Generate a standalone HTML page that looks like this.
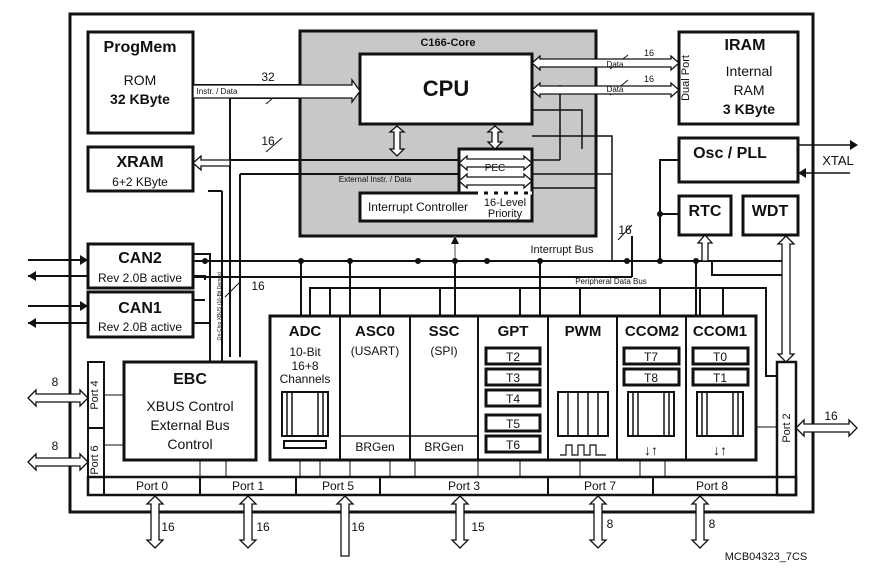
<!DOCTYPE html>
<html><head><meta charset="utf-8"><style>
body{margin:0;background:#fff}
svg{display:block;font-family:"Liberation Sans",sans-serif}
.b{font-weight:bold}
</style></head><body>
<svg width="877" height="573" viewBox="0 0 877 573" xmlns="http://www.w3.org/2000/svg">
<g fill="none" stroke="#111">
<rect x="70" y="14" width="743" height="498" stroke-width="3"/>
<rect x="300" y="31" width="296" height="205" fill="#c8c8c8" stroke-width="3"/>
<rect x="360" y="54" width="172" height="70" fill="#fff" stroke-width="3"/>
<rect x="459" y="149" width="73" height="46" fill="#fff" stroke-width="3"/>
<rect x="360" y="193" width="172" height="28" fill="#fff" stroke-width="3"/>
<line x1="478" y1="193" x2="532" y2="193" stroke="#fff" stroke-width="3" stroke-dasharray="6,4"/>
<rect x="88" y="32" width="105" height="101" stroke-width="3"/>
<rect x="88" y="147" width="105" height="44" stroke-width="3"/>
<rect x="679" y="32" width="119" height="92" stroke-width="3"/>
<rect x="679" y="138" width="119" height="44" stroke-width="3"/>
<rect x="679" y="196" width="52" height="39" stroke-width="3"/>
<rect x="743" y="196" width="55" height="39" stroke-width="3"/>
<rect x="88" y="244" width="105" height="44" stroke-width="3"/>
<rect x="88" y="292" width="105" height="45" stroke-width="3"/>
<rect x="124" y="362" width="132" height="98" stroke-width="3"/>
<rect x="88" y="362" width="16" height="133" stroke-width="2"/>
<line x1="88" y1="428" x2="104" y2="428" stroke-width="2"/>
<rect x="270" y="316" width="486" height="144" stroke-width="3"/>
<path d="M340 316V460M410 316V460M478 316V460M548 316V460M617 316V460M686 316V460" stroke-width="2"/>
<path d="M340 436H478" stroke-width="1.5"/>
<rect x="777" y="362" width="19" height="133" stroke-width="2.5"/>
<rect x="88" y="477" width="708" height="18" stroke-width="2.5"/>
<path d="M104 477V495M200 477V495M296 477V495M380 477V495M548 477V495M653 477V495M777 477V495" stroke-width="2"/>
<path d="M104 395H124M104 445H124M200 460V477M226 460V477M300 460V477M320 460V477M350 460V477M390 460V477M415 460V477M478 460V477M520 460V477M580 460V477M640 460V477M665 460V477M756 427H777" stroke-width="1"/>
<rect x="486" y="348" width="54" height="16" stroke-width="3"/>
<rect x="486" y="369" width="54" height="16" stroke-width="3"/>
<rect x="486" y="390" width="54" height="16" stroke-width="3"/>
<rect x="486" y="415" width="54" height="16" stroke-width="3"/>
<rect x="486" y="436" width="54" height="16" stroke-width="3"/>
<rect x="624" y="348" width="55" height="16" stroke-width="3"/>
<rect x="624" y="369" width="55" height="16" stroke-width="3"/>
<rect x="693" y="348" width="55" height="16" stroke-width="3"/>
<rect x="693" y="369" width="55" height="16" stroke-width="3"/>
<rect x="282" y="392" width="46" height="44" stroke-width="2"/><path d="M287 392V436M292 392V436M318 392V436M323 392V436" stroke-width="1.5"/>
<rect x="284" y="441" width="42" height="7" stroke-width="2"/>
<rect x="558" y="392" width="50" height="44" stroke-width="2"/><path d="M568 392V436M578 392V436M588 392V436M598 392V436" stroke-width="1.5"/>
<path d="M560 455H566V445H572V455H578V445H584V455H590V445H596V455H606" stroke-width="1.2"/>
<rect x="628" y="392" width="46" height="44" stroke-width="2"/><path d="M633 392V436M638 392V436M664 392V436M669 392V436" stroke-width="1.5"/>
<rect x="697" y="392" width="46" height="44" stroke-width="2"/><path d="M702 392V436M707 392V436M733 392V436M738 392V436" stroke-width="1.5"/>
<path d="M193 261H783M193 277H632M632 277V236M301 261V316M350 261V316M455 261V316M540 261V316" stroke-width="2"/>
<path d="M660 261V214H679M660 214V160H679M696 261V316M712 261V275H783" stroke-width="2"/>
<path d="M310 316V288H766V376H777M330 316V288M380 316V288M440 316V288M520 316V288M580 316V288M660 316V288M700 316V288M723 316V288" stroke-width="2"/>
<path d="M455 261V236" stroke="#888" stroke-width="1.5"/>
<path d="M193 85H300V98H230V160H459M240 174H459M240 174V357M230 160V357M222 362V191M222 191H208" stroke-width="2"/>
<path d="M532 110H582V149M532 136H612V174H532M532 160H560M532 188H596V160M560 85V160M612 136V261" stroke-width="1.5"/>
<path d="M798 145H850M850 173H798" stroke-width="1.5"/>
<path d="M28 260H88M28 276H88M28 306H88M28 323H88M193 254H210V362M193 276H205V280M193 300H205M193 323H210" stroke-width="2"/>
<path d="M618 240L632 225M225 297L240 282M610 95L628 80M610 69L628 55M266 104L282 90M266 152L282 138" stroke-width="1"/>
</g>
<g fill="#111">
<circle cx="205" cy="261" r="3"/><circle cx="301" cy="261" r="3"/><circle cx="350" cy="261" r="3"/><circle cx="418" cy="261" r="3"/><circle cx="455" cy="261" r="3"/><circle cx="487" cy="261" r="3"/><circle cx="540" cy="261" r="3"/><circle cx="627" cy="261" r="3"/><circle cx="660" cy="261" r="3"/><circle cx="696" cy="261" r="3"/><circle cx="660" cy="214" r="3"/>
<polygon points="455,236 451,244 459,244"/>
<polygon points="850,140 858,145 850,150"/><polygon points="798,173 806,168 806,178"/>
<polygon points="88,260 80,255 80,265"/><polygon points="28,276 36,271 36,281"/><polygon points="88,306 80,301 80,311"/><polygon points="28,323 36,318 36,328"/>
</g>
<g fill="#fff" stroke="#111" stroke-width="1.3">
<polygon points="193,85 352,85 352,80 360,91 352,102 352,98 193,98"/>
<polygon points="532,63 540,56 540,59 671,59 671,56 679,63 671,70 671,67 540,67 540,70"/>
<polygon points="532,90 540,83 540,86 671,86 671,83 679,90 671,97 671,94 540,94 540,97"/>
<polygon points="397,126 404,132 400,132 400,149 404,149 397,156 390,149 394,149 394,132 390,132"/>
<polygon points="495,126 502,132 498,132 498,142 502,142 495,149 488,142 492,142 492,132 488,132"/>
<polygon points="459,163 467,156 467,159 524,159 524,156 532,163 524,170 524,167 467,167 467,170"/>
<polygon points="459,181 467,174 467,177 524,177 524,174 532,181 524,188 524,185 467,185 467,188"/>
<polygon points="193,163 201,156 201,160 230,160 230,166 201,166 201,170"/>
<polygon points="28,398 36,390 36,394 80,394 80,390 88,398 80,406 80,402 36,402 36,406"/>
<polygon points="28,462 36,454 36,458 80,458 80,454 88,462 80,470 80,466 36,466 36,470"/>
<polygon points="796,428 804,420 804,424 849,424 849,420 857,428 849,436 849,432 804,432 804,436"/>
<polygon points="155,496 163,504 159,504 159,540 163,540 155,548 147,540 151,540 151,504 147,504"/>
<polygon points="248,496 256,504 252,504 252,540 256,540 248,548 240,540 244,540 244,504 240,504"/>
<polygon points="345,496 353,504 349,504 349,556 341,556 341,504 337,504"/>
<polygon points="460,496 468,504 464,504 464,540 468,540 460,548 452,540 456,540 456,504 452,504"/>
<polygon points="598,496 606,504 602,504 602,540 606,540 598,548 590,540 594,540 594,504 590,504"/>
<polygon points="700,496 708,504 704,504 704,540 708,540 700,548 692,540 696,540 696,504 692,504"/>
<polygon points="705,235 712,243 708,243 708,261 702,261 702,243 698,243"/>
<polygon points="786,236 794,244 790,244 790,354 794,354 786,362 778,354 782,354 782,244 778,244"/>
</g>
<g fill="#111" font-size="12" text-anchor="middle">
<text x="140" y="52" font-size="16" class="b">ProgMem</text>
<text x="140" y="85" font-size="14">ROM</text>
<text x="140" y="104" font-size="14" class="b">32 KByte</text>
<text x="140" y="167" font-size="16" class="b">XRAM</text>
<text x="140" y="186" font-size="12">6+2 KByte</text>
<text x="448" y="46" font-size="11" class="b">C166-Core</text>
<text x="446" y="96" font-size="22" class="b">CPU</text>
<text x="495" y="171" font-size="10">PEC</text>
<text x="418" y="211" font-size="12">Interrupt Controller</text>
<text x="505" y="206" font-size="11">16-Level</text>
<text x="505" y="217" font-size="11">Priority</text>
<text x="745" y="50" font-size="16" class="b">IRAM</text>
<text x="749" y="76" font-size="14">Internal</text>
<text x="749" y="95" font-size="14">RAM</text>
<text x="749" y="114" font-size="14" class="b">3 KByte</text>
<text x="730" y="158" font-size="16" class="b">Osc / PLL</text>
<text x="838" y="165" font-size="13">XTAL</text>
<text x="705" y="216" font-size="16" class="b">RTC</text>
<text x="770" y="216" font-size="16" class="b">WDT</text>
<text x="140" y="263" font-size="16" class="b">CAN2</text>
<text x="140" y="282" font-size="12">Rev 2.0B active</text>
<text x="140" y="313" font-size="16" class="b">CAN1</text>
<text x="140" y="331" font-size="12">Rev 2.0B active</text>
<text x="190" y="384" font-size="16" class="b">EBC</text>
<text x="190" y="411" font-size="14">XBUS Control</text>
<text x="190" y="430" font-size="14">External Bus</text>
<text x="190" y="449" font-size="14">Control</text>
<text x="305" y="336" font-size="15" class="b">ADC</text>
<text x="305" y="356" font-size="12">10-Bit</text>
<text x="305" y="370" font-size="12">16+8</text>
<text x="305" y="383" font-size="12">Channels</text>
<text x="375" y="336" font-size="15" class="b">ASC0</text>
<text x="375" y="355" font-size="12">(USART)</text>
<text x="444" y="336" font-size="15" class="b">SSC</text>
<text x="444" y="355" font-size="12">(SPI)</text>
<text x="375" y="451" font-size="12">BRGen</text>
<text x="444" y="451" font-size="12">BRGen</text>
<text x="513" y="336" font-size="15" class="b">GPT</text>
<text x="583" y="336" font-size="15" class="b">PWM</text>
<text x="652" y="336" font-size="15" class="b">CCOM2</text>
<text x="720" y="336" font-size="15" class="b">CCOM1</text>
<text x="513" y="361" font-size="12">T2</text><text x="513" y="382" font-size="12">T3</text><text x="513" y="403" font-size="12">T4</text><text x="513" y="428" font-size="12">T5</text><text x="513" y="449" font-size="12">T6</text>
<text x="651" y="361" font-size="12">T7</text><text x="651" y="382" font-size="12">T8</text>
<text x="720" y="361" font-size="12">T0</text><text x="720" y="382" font-size="12">T1</text>
<text x="651" y="455" font-size="14" class="b">↓↑</text><text x="720" y="455" font-size="14" class="b">↓↑</text>
<text x="152" y="490" font-size="12">Port 0</text><text x="248" y="490" font-size="12">Port 1</text><text x="338" y="490" font-size="12">Port 5</text><text x="464" y="490" font-size="12">Port 3</text><text x="600" y="490" font-size="12">Port 7</text><text x="712" y="490" font-size="12">Port 8</text>
<text x="268" y="81" font-size="12">32</text>
<text x="268" y="145" font-size="12">16</text>
<text x="258" y="290" font-size="12">16</text>
<text x="625" y="234" font-size="12">16</text>
<text x="831" y="420" font-size="12">16</text>
<text x="55" y="386" font-size="12">8</text><text x="55" y="450" font-size="12">8</text>
<text x="168" y="531" font-size="12">16</text><text x="263" y="531" font-size="12">16</text><text x="358" y="531" font-size="12">16</text><text x="478" y="531" font-size="12">15</text><text x="610" y="528" font-size="12">8</text><text x="712" y="528" font-size="12">8</text>
<text x="766" y="560" font-size="11">MCB04323_7CS</text>
<text x="217" y="94" font-size="8">Instr. / Data</text>
<text x="375" y="182" font-size="8">External Instr. / Data</text>
<text x="615" y="67" font-size="8">Data</text><text x="615" y="92" font-size="8">Data</text>
<text x="649" y="56" font-size="9">16</text><text x="649" y="82" font-size="9">16</text>
<text x="562" y="253" font-size="11">Interrupt Bus</text>
<text x="611" y="284" font-size="8">Peripheral Data Bus</text>
<text transform="translate(98,395) rotate(-90)" font-size="11">Port 4</text>
<text transform="translate(98,460) rotate(-90)" font-size="11">Port 6</text>
<text transform="translate(790,428) rotate(-90)" font-size="11">Port 2</text>
<text transform="translate(689,78) rotate(-90)" font-size="11">Dual Port</text>
<text transform="translate(221,306) rotate(-90)" font-size="5">On-Chip XBUS (16-Bit Demux)</text>
</g>
</svg>
</body></html>
